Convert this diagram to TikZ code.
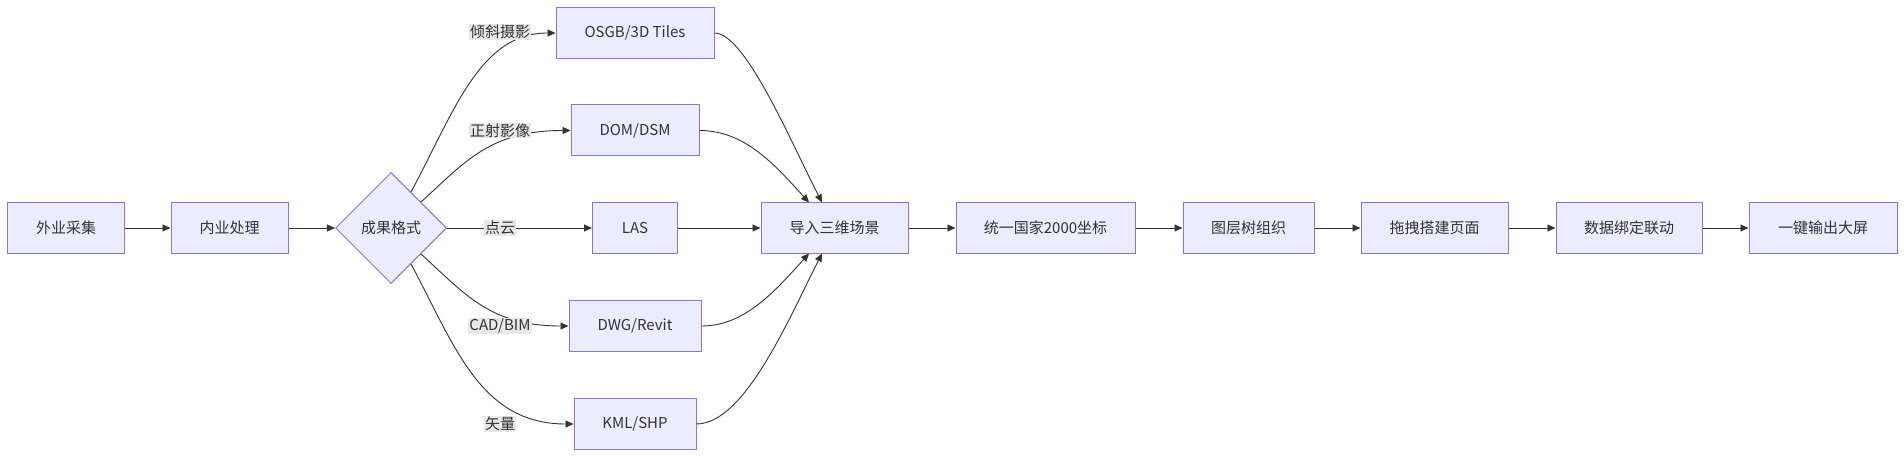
\documentclass[tikz,border=0pt]{standalone}
\usepackage{fontspec}
\setmainfont{Liberation Sans}
\newfontfamily\cjk{Noto Sans CJK SC}
\usetikzlibrary{shapes.geometric,arrows.meta}
\definecolor{nfill}{HTML}{ECECFF}
\definecolor{nline}{HTML}{9370DB}
\definecolor{txt}{HTML}{333333}
\definecolor{lbg}{HTML}{E8E8E8}
\begin{document}
\begin{tikzpicture}[x=1pt,y=-1pt,
  box/.style={draw=nline,fill=nfill,line width=1pt,minimum height=51pt,text=txt,font=\fontsize{15}{18}\selectfont\cjk,inner sep=0pt},
  dia/.style={diamond,draw=nline,fill=nfill,line width=1pt,minimum width=111pt,minimum height=111pt,aspect=1,text=txt,font=\fontsize{15}{18}\selectfont\cjk,inner sep=0pt},
  lab/.style={fill=lbg,text=txt,font=\fontsize{15}{18}\selectfont\cjk,inner sep=1pt},
  e/.style={draw=txt,line width=0.9pt,-{Triangle[length=8pt,width=7pt]}}]
\useasboundingbox (0,0) rectangle (1904,457);
\fill[white] (0,0) rectangle (1904,457);
\node[box,minimum width=117pt] (a) at (66,228) {外业采集};
\node[box,minimum width=117pt] (b) at (229.5,228) {内业处理};
\node[dia] (c) at (391,228) {成果格式};
\node[box,minimum width=158pt] (o) at (635,33) {OSGB/3D Tiles};
\node[box,minimum width=128pt] (d) at (635,130.5) {DOM/DSM};
\node[box,minimum width=85pt] (l) at (635,228) {LAS};
\node[box,minimum width=132pt] (w) at (635,326) {DWG/Revit};
\node[box,minimum width=122pt] (k) at (635,424) {KML/SHP};
\node[box,minimum width=147pt] (i) at (834.5,228) {导入三维场景};
\node[box,minimum width=179pt] (u) at (1045.5,228) {统一国家2000坐标};
\node[box,minimum width=131pt] (t) at (1248.5,228) {图层树组织};
\node[box,minimum width=147pt] (p) at (1434.5,228) {拖拽搭建页面};
\node[box,minimum width=146pt] (s) at (1629,228) {数据绑定联动};
\node[box,minimum width=148pt] (y) at (1823,228) {一键输出大屏};
\draw[e] (a) -- (b);
\draw[e] (b) -- (c);
\draw[e] (i) -- (u);
\draw[e] (u) -- (t);
\draw[e] (t) -- (p);
\draw[e] (p) -- (s);
\draw[e] (s) -- (y);
\draw[e] (l) -- (i);
% left fan
\draw[e] (411,192) .. controls (455,110) and (480,33) .. (o.west);
\draw[e] (421,202) .. controls (465,162) and (490,130.5) .. (d.west);
\draw[e] (c.east) -- (l.west);
\draw[e] (421,254) .. controls (465,294) and (490,326) .. (w.west);
\draw[e] (411,264) .. controls (455,346) and (480,424) .. (k.west);
% right fan
\draw[e] (o.east) .. controls (745,33) and (790,140) .. (822,202.5);
\draw[e] (d.east) .. controls (745,130.5) and (775,165) .. (809,202.5);
\draw[e] (w.east) .. controls (745,326) and (775,291) .. (809,253.5);
\draw[e] (k.east) .. controls (745,424) and (790,316) .. (822,253.5);
\node[lab] (l1) at (500,32) {倾斜摄影};
\node[lab] (l2) at (500,130.5) {正射影像};
\node[lab] (l3) at (500,228) {点云};
\node[lab] (l4) at (500,326) {CAD/BIM};
\node[lab] (l5) at (500,424) {矢量};
\end{tikzpicture}
\end{document}
